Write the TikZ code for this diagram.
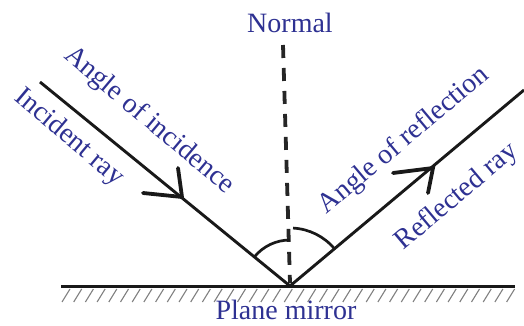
\documentclass[tikz,border=0pt]{standalone}
\usepackage{fontspec}
\setmainfont{Liberation Serif}
\definecolor{labelblue}{RGB}{46,49,146}
\begin{document}
\begin{tikzpicture}[x=1pt,y=1pt,
  ray/.style={line width=2.9pt, black!90},
  arrowarm/.style={line width=3.8pt, black!90, line cap=round},
  normalline/.style={line width=3.8pt, black!85, dash pattern=on 13pt off 10pt},
  anglearc/.style={line width=2.7pt, black!90},
  mirrorline/.style={line width=3.6pt, black!90},
  hatch/.style={line width=1.1pt, black!50},
  lbl/.style={text=labelblue, font=\fontsize{28}{30}\selectfont, inner sep=0pt}]
\useasboundingbox (0,0) rectangle (524,326);
% key points
\coordinate (P) at (290,40);
\coordinate (A) at (40,244);
\coordinate (B) at (524,236);
\coordinate (ML) at (61,39.5);
\coordinate (MR) at (515,39.5);
\coordinate (NT) at (283,281);
\coordinate (NB) at (290,43);
\coordinate (TA) at (182,129);
\coordinate (TB) at (433,158);
% mirror and hatching
\draw[mirrorline] (ML) -- (MR);
\foreach \i in {0,...,38} {
  \draw[hatch] (62+\i*11.7,24) -- ++(8,13);
}
% normal
\draw[normalline] (NT) -- (NB);
% rays
\draw[ray] (A) -- (P) -- (B);
% arrowheads
\draw[arrowarm] (TA) ++(-39,4) -- (TA) -- ++(-4,29);
\draw[arrowarm] (TB) ++(-40,-5) -- (TB) -- ++(-5,-25);
% angle arcs
\draw[anglearc] (P) ++(140.8:46) arc[start angle=140.8, end angle=90, radius=46];
\draw[anglearc] (P) ++(87:58) arc[start angle=87, end angle=39.9, radius=58];
% labels
\node[lbl, anchor=base] (normal) at (290,293) {Normal};
\node[lbl, anchor=base] (mirror) at (286,6) {Plane mirror};
\node[lbl, rotate=-40] (aoi) at (149,205) {Angle of incidence};
\node[lbl, rotate=-40] (iray) at (69,188) {Incident ray};
\node[lbl, rotate=40] (aor) at (404,185) {Angle of reflection};
\node[lbl, rotate=40] (rray) at (457,129) {Reflected ray};
\end{tikzpicture}
\end{document}
